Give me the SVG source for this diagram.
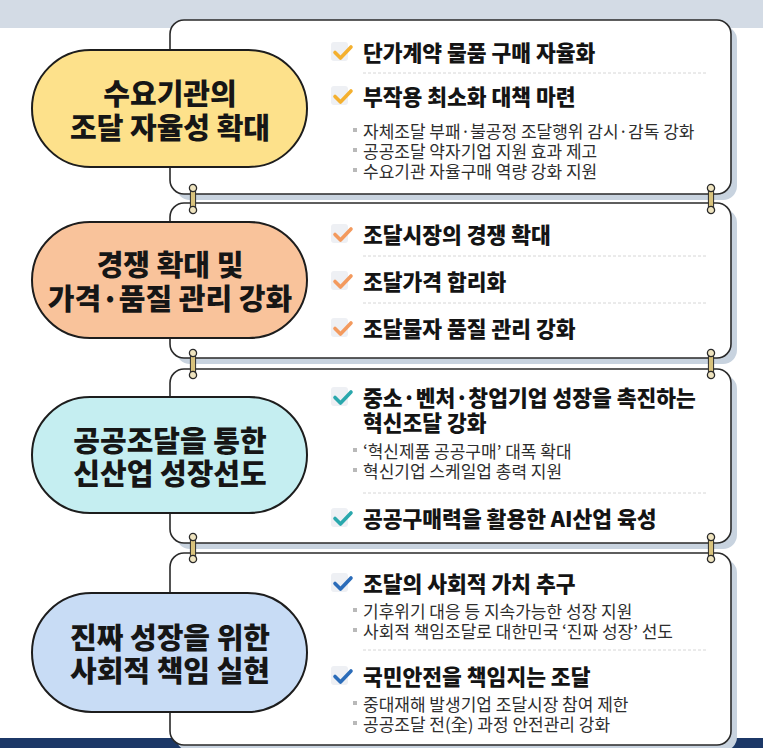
<svg xmlns="http://www.w3.org/2000/svg" xmlns:xlink="http://www.w3.org/1999/xlink" width="763" height="748" viewBox="0 0 763 748">
<style>
text{font-family:"Noto Sans CJK KR","Noto Sans",sans-serif;dominant-baseline:central}
.shadow{fill:#c8d3df}
.card{fill:#ffffff;stroke:#2a2a2a;stroke-width:1.6}
.pill{stroke:#1d1d1d;stroke-width:2}
.pt{font-size:29px;font-weight:900;fill:#161616;text-anchor:middle}
.h{font-size:21.5px;font-weight:900;fill:#141414}
.b{font-size:17px;fill:#2e2e2e}
.sep{stroke:#d6d6d6;stroke-width:1;stroke-dasharray:3 2}
.bs{fill:#b9b9b9}
.cb{fill:#eef0f4}
</style>
<defs>
<path id="chk" d="M-8,0 L-2.5,5.5 L8,-5.5" fill="none" stroke-width="3.6" stroke-linecap="round" stroke-linejoin="round"/>
<g id="ring">
<rect x="-2.6" y="-11" width="5.2" height="22" rx="2.6" fill="#d8c27c" stroke="#2a2a2a" stroke-width="1"/>
<circle cx="0" cy="-11" r="3.6" fill="#efe4bf" stroke="#2a2a2a" stroke-width="1.3"/>
<circle cx="0" cy="11" r="3.6" fill="#efe4bf" stroke="#2a2a2a" stroke-width="1.3"/>
</g>
</defs>
<rect x="0" y="0" width="763" height="748" fill="#ffffff"/>
<rect x="0" y="0" width="763" height="28" fill="#d3dbe5"/>
<rect x="0" y="738" width="763" height="10" fill="#1c3867"/>

<g id="card1">
<rect class="shadow" x="176" y="26" width="561" height="174" rx="14"/>
<rect class="card" x="170" y="20" width="561" height="174" rx="14"/>
<rect class="cb" x="331" y="42" width="17" height="19" rx="3"/>
<use xlink:href="#chk" x="343" y="52.5" stroke="#f4b02f"/>
<text class="h" x="363" y="51">단가계약 물품 구매 자율화</text>
<line class="sep" x1="363" y1="73" x2="706" y2="73"/>
<rect class="cb" x="331" y="86" width="17" height="19" rx="3"/>
<use xlink:href="#chk" x="343" y="96.5" stroke="#f4b02f"/>
<text class="h" x="363" y="95">부작용 최소화 대책 마련</text>
<rect class="bs" x="353" y="128" width="4" height="4"/>
<rect class="bs" x="353" y="148" width="4" height="4"/>
<rect class="bs" x="353" y="168" width="4" height="4"/>
<text class="b"><tspan x="363" y="130">자체조달 부패·불공정 조달행위 감시·감독 강화</tspan><tspan x="363" y="150">공공조달 약자기업 지원 효과 제고</tspan><tspan x="363" y="170">수요기관 자율구매 역량 강화 지원</tspan></text>
</g>

<g id="card2">
<rect class="shadow" x="176" y="209" width="561" height="155" rx="14"/>
<rect class="card" x="170" y="203" width="561" height="155" rx="14"/>
<rect class="cb" x="331" y="224" width="17" height="19" rx="3"/>
<use xlink:href="#chk" x="343" y="234.5" stroke="#f39a5e"/>
<text class="h" x="363" y="233">조달시장의 경쟁 확대</text>
<line class="sep" x1="363" y1="256" x2="706" y2="256"/>
<rect class="cb" x="331" y="271" width="17" height="19" rx="3"/>
<use xlink:href="#chk" x="343" y="281.5" stroke="#f39a5e"/>
<text class="h" x="363" y="280">조달가격 합리화</text>
<line class="sep" x1="363" y1="303" x2="706" y2="303"/>
<rect class="cb" x="331" y="318" width="17" height="19" rx="3"/>
<use xlink:href="#chk" x="343" y="328.5" stroke="#f39a5e"/>
<text class="h" x="363" y="327">조달물자 품질 관리 강화</text>
</g>

<g id="card3">
<rect class="shadow" x="176" y="375" width="561" height="174" rx="14"/>
<rect class="card" x="170" y="369" width="561" height="174" rx="14"/>
<rect class="cb" x="331" y="387" width="17" height="19" rx="3"/>
<use xlink:href="#chk" x="343" y="397.5" stroke="#2aa8ad"/>
<text class="h"><tspan x="363" y="396">중소·벤처·창업기업 성장을 촉진하는</tspan><tspan x="363" y="421">혁신조달 강화</tspan></text>
<rect class="bs" x="353" y="448" width="4" height="4"/>
<rect class="bs" x="353" y="468" width="4" height="4"/>
<text class="b"><tspan x="363" y="450">‘혁신제품 공공구매’ 대폭 확대</tspan><tspan x="363" y="470">혁신기업 스케일업 총력 지원</tspan></text>
<line class="sep" x1="363" y1="493" x2="706" y2="493"/>
<rect class="cb" x="331" y="508" width="17" height="19" rx="3"/>
<use xlink:href="#chk" x="343" y="518.5" stroke="#2aa8ad"/>
<text class="h" x="363" y="517">공공구매력을 활용한 AI산업 육성</text>
</g>

<g id="card4">
<rect class="shadow" x="176" y="559" width="561" height="192" rx="14"/>
<rect class="card" x="170" y="553" width="561" height="192" rx="14"/>
<rect class="cb" x="331" y="573" width="17" height="19" rx="3"/>
<use xlink:href="#chk" x="343" y="583.5" stroke="#2b6cb9"/>
<text class="h" x="363" y="582">조달의 사회적 가치 추구</text>
<rect class="bs" x="353" y="608" width="4" height="4"/>
<rect class="bs" x="353" y="628" width="4" height="4"/>
<text class="b"><tspan x="363" y="610">기후위기 대응 등 지속가능한 성장 지원</tspan><tspan x="363" y="630">사회적 책임조달로 대한민국 ‘진짜 성장’ 선도</tspan></text>
<line class="sep" x1="363" y1="650" x2="706" y2="650"/>
<rect class="cb" x="331" y="666" width="17" height="19" rx="3"/>
<use xlink:href="#chk" x="343" y="676.5" stroke="#2b6cb9"/>
<text class="h" x="363" y="675">국민안전을 책임지는 조달</text>
<rect class="bs" x="353" y="701" width="4" height="4"/>
<rect class="bs" x="353" y="721" width="4" height="4"/>
<text class="b"><tspan x="363" y="703">중대재해 발생기업 조달시장 참여 제한</tspan><tspan x="363" y="723">공공조달 전(全) 과정 안전관리 강화</tspan></text>
</g>

<g id="pill1">
<rect class="pill" x="32" y="50" width="275" height="117" rx="58.5" fill="#fde18b"/>
<text class="pt"><tspan x="170" y="92">수요기관의</tspan><tspan x="170" y="126">조달 자율성 확대</tspan></text>
</g>
<g id="pill2">
<rect class="pill" x="32" y="222" width="275" height="116" rx="58" fill="#f9c39b"/>
<text class="pt"><tspan x="170" y="263">경쟁 확대 및</tspan><tspan x="170" y="297">가격·품질 관리 강화</tspan></text>
</g>
<g id="pill3">
<rect class="pill" x="32" y="397" width="275" height="116" rx="58" fill="#c5eef1"/>
<text class="pt"><tspan x="170" y="439">공공조달을 통한</tspan><tspan x="170" y="472">신산업 성장선도</tspan></text>
</g>
<g id="pill4">
<rect class="pill" x="32" y="593" width="275" height="119" rx="59.5" fill="#c8dcf5"/>
<text class="pt"><tspan x="170" y="636">진짜 성장을 위한</tspan><tspan x="170" y="669">사회적 책임 실현</tspan></text>
</g>

<g id="connectors">
<use xlink:href="#ring" x="193" y="199"/>
<use xlink:href="#ring" x="711" y="199"/>
<use xlink:href="#ring" x="193" y="364"/>
<use xlink:href="#ring" x="711" y="364"/>
<use xlink:href="#ring" x="193" y="548"/>
<use xlink:href="#ring" x="711" y="548"/>
</g>
</svg>
